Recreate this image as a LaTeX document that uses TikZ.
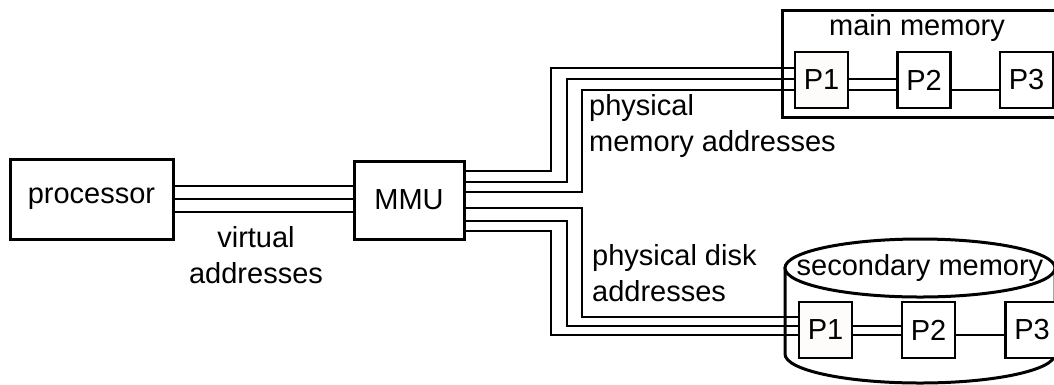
\documentclass[tikz,border=0pt]{standalone}
\usepackage{fontspec}
\setmainfont{Liberation Sans}
\definecolor{pagefill}{RGB}{253,252,250}
\begin{document}
\begin{tikzpicture}[x=1pt,y=-1pt,
  every node/.style={font=\fontsize{29}{36}\selectfont},
  unit/.style={draw,line width=3pt,fill=white,inner sep=0pt},
  page/.style={draw,line width=2.4pt,fill=white,inner sep=0pt,
    minimum width=53pt,minimum height=56pt},
  firstpage/.style={page,fill=pagefill},
  bus/.style={line width=2pt},
  txt/.style={inner sep=0pt,align=left}]
\clip (0,0) rectangle (1054,384);
\fill[white] (0,0) rectangle (1054,384);

% processor and memory management unit
\node[unit,minimum width=163pt,minimum height=80pt] (proc) at (91.5,199) {processor};
\node[unit,minimum width=110pt,minimum height=78pt] (mmu) at (409,200) {MMU};

% main memory frame
\node[unit,minimum width=288pt,minimum height=107pt] (mainmem) at (926,63.5) {};
\node[inner sep=0pt,anchor=base] (mmtitle) at (917,35) {main memory};

% secondary memory drum
\filldraw[line width=3pt,fill=white] (785,268) -- (785,354)
  arc[start angle=180,end angle=360,x radius=135pt,y radius=29pt] -- (1055,268) -- cycle;
\filldraw[line width=3pt,fill=white] (920,268) ellipse[x radius=135pt,y radius=29pt];
\node[inner sep=0pt,anchor=base] (smtitle) at (920,275) {secondary memory};

% pages
\node[firstpage] (mP1) at (821.5,80) {P1};
\node[page] (mP2) at (924,80) {P2};
\node[page] (mP3) at (1026.5,80) {P3};
\node[firstpage] (sP1) at (825.5,330) {P1};
\node[page] (sP2) at (928.5,330) {P2};
\node[page] (sP3) at (1032,330) {P3};

% virtual address bus
\foreach \yy in {186,199,212}
  \draw[bus] (proc.east |- 0,\yy) -- (mmu.west |- 0,\yy);

% physical memory address bus
\draw[bus] (mmu.east |- 0,171) -| (551,68) -- (mP1.west |- 0,68);
\draw[bus] (mmu.east |- 0,181.5) -| (567,79) -- (mP1.west |- 0,79);
\draw[bus] (mmu.east |- 0,192) -| (581.5,89.5) -- (mP1.west |- 0,89.5);

% physical disk address bus
\draw[bus] (mmu.east |- 0,208) -| (581.5,317) -- (sP1.west |- 0,317);
\draw[bus] (mmu.east |- 0,220.5) -| (567,326) -- (sP1.west |- 0,326);
\draw[bus] (mmu.east |- 0,231) -| (551,335) -- (sP1.west |- 0,335);

% links between pages
\draw[bus] (mP1.east |- 0,79) -- (mP2.west |- 0,79);
\draw[bus] (mP1.east |- 0,89.5) -- (mP2.west |- 0,89.5);
\draw[bus] (mP2.east |- 0,89.5) -- (mP3.west |- 0,89.5);
\draw[bus] (sP1.east |- 0,326) -- (sP2.west |- 0,326);
\draw[bus] (sP1.east |- 0,335) -- (sP2.west |- 0,335);
\draw[bus] (sP2.east |- 0,335) -- (sP3.west |- 0,335);

% bus captions
\node[txt,align=center,anchor=north] (vaddr) at (256,226.5) {virtual\\addresses};
\node[txt,anchor=north west] (pmaddr) at (589,94.5) {physical\\memory addresses};
\node[txt,anchor=north west] (pdaddr) at (592,244.5) {physical disk\\addresses};
\end{tikzpicture}
\end{document}
